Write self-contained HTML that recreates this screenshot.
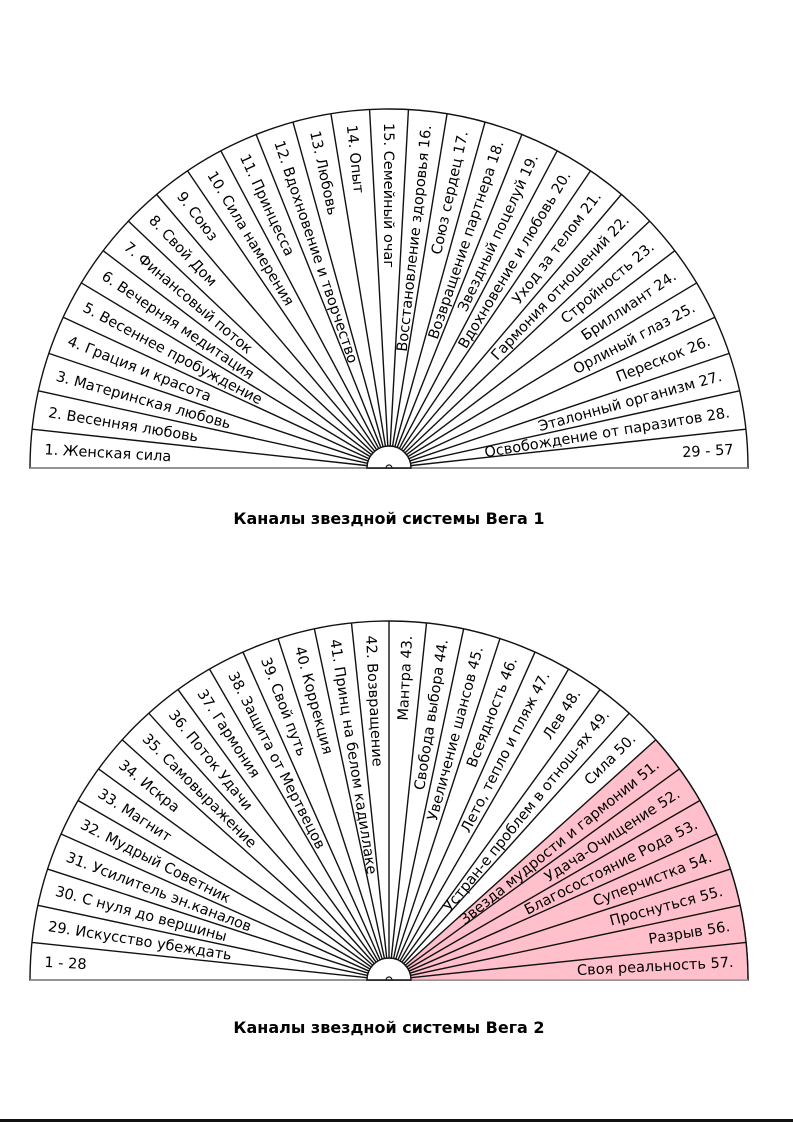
<!DOCTYPE html>
<html><head><meta charset="utf-8">
<style>
html,body{margin:0;padding:0;background:#fff;}
svg{display:block;}
text{font-family:"DejaVu Sans","Liberation Sans",sans-serif;}
</style></head>
<body>
<svg id="s" width="793" height="1122" viewBox="0 0 793 1122" xmlns="http://www.w3.org/2000/svg">
<text x="389" y="524" text-anchor="middle" font-size="16" font-weight="bold" font-family="Liberation Sans, sans-serif">Каналы звездной системы Вега 1</text>
<text x="389" y="1033" text-anchor="middle" font-size="16" font-weight="bold" font-family="Liberation Sans, sans-serif">Каналы звездной системы Вега 2</text>
<rect x="0" y="1119" width="793" height="3" fill="#111"/>
</svg>
<script>
var L1=["1. Женская сила","2. Весенняя любовь","3. Материнская любовь","4. Грация и красота","5. Весеннее пробуждение","6. Вечерняя медитация","7. Финансовый поток","8. Свой Дом","9. Союз","10. Сила намерения","11. Принцесса","12. Вдохновение и творчество","13. Любовь","14. Опыт","15. Семейный очаг","Восстановление здоровья 16.","Союз сердец 17.","Возвращение партнера 18.","Звездный поцелуй 19.","Вдохновение и любовь 20.","Уход за телом 21.","Гармония отношений 22.","Стройность 23.","Бриллиант 24.","Орлиный глаз 25.","Перескок 26.","Эталонный организм 27.","Освобождение от паразитов 28.","29 - 57"];
var L2=["1 - 28","29. Искусство убеждать","30. С нуля до вершины","31. Усилитель эн.каналов","32. Мудрый Советник","33. Магнит","34. Искра","35. Самовыражение","36. Поток Удачи","37. Гармония","38. Защита от Мертвецов","39. Свой путь","40. Коррекция","41. Принц на белом кадиллаке","42. Возвращение","Мантра 43.","Свобода выбора 44.","Увеличение шансов 45.","Всеядность 46.","Лето, тепло и пляж 47.","Лев 48.","Устран-е проблем в отнош-ях 49.","Сила 50.","Звезда мудрости и гармонии 51.","Удача-Очищение 52.","Благосостояние Рода 53.","Суперчистка 54.","Проснуться 55.","Разрыв 56.","Своя реальность 57."];
var svg=document.getElementById('s'),NS="http://www.w3.org/2000/svg";
function el(t,a,txt){var e=document.createElementNS(NS,t);for(var k in a)e.setAttribute(k,a[k]);if(txt)e.textContent=txt;svg.appendChild(e);return e;}
function chart(cx,cy,L,pinkFrom){
  var R=359,r=22,n=L.length,d=180/n,rad=Math.PI/180;
  el('path',{d:'M'+(cx-R)+' '+cy+' A'+R+' '+R+' 0 0 1 '+(cx+R)+' '+cy+' Z',fill:'#fff',stroke:'#111','stroke-width':1.4});
  if(pinkFrom!=null){
    var a0=(180-pinkFrom*d)*rad;
    var x0=cx+R*Math.cos(a0),y0=cy-R*Math.sin(a0);
    var xi=cx+r*Math.cos(a0),yi=cy-r*Math.sin(a0);
    el('path',{d:'M'+xi+' '+yi+' L'+x0+' '+y0+' A'+R+' '+R+' 0 0 1 '+(cx+R)+' '+cy+' L'+(cx+r)+' '+cy+' A'+r+' '+r+' 0 0 0 '+xi+' '+yi+' Z',fill:'#ffc0cb',stroke:'none'});
    el('path',{d:'M'+x0+' '+y0+' A'+R+' '+R+' 0 0 1 '+(cx+R)+' '+cy,fill:'none',stroke:'#111','stroke-width':1.4});
  }
  for(var i=1;i<n;i++){
    var a=(180-i*d)*rad;
    el('line',{x1:cx+r*Math.cos(a),y1:cy-r*Math.sin(a),x2:cx+R*Math.cos(a),y2:cy-R*Math.sin(a),stroke:'#111','stroke-width':1.4});
  }
  el('line',{x1:cx-R,y1:cy,x2:cx+R,y2:cy,stroke:'#999','stroke-width':1.5});
  el('path',{d:'M'+(cx-r)+' '+cy+' A'+r+' '+r+' 0 0 1 '+(cx+r)+' '+cy+' Z',fill:'#fff',stroke:'#111','stroke-width':1.4});
  el('path',{d:'M'+(cx-3)+' '+cy+' A3 3 0 0 1 '+(cx+3)+' '+cy,fill:'none',stroke:'#111','stroke-width':1.2});
  var rt=R-14;
  for(var i=0;i<n;i++){
    var th=180-(i+0.5)*d,a=th*rad;
    var x=cx+rt*Math.cos(a),y=cy-rt*Math.sin(a);
    if(th>=89.9){
      el('text',{x:x,y:y,'font-size':14.5,'text-anchor':'start',dy:5,transform:'rotate('+(180-th)+' '+x+' '+y+')'},L[i]);
    }else{
      el('text',{x:x,y:y,'font-size':14.5,'text-anchor':'end',dy:5,transform:'rotate('+(-th)+' '+x+' '+y+')'},L[i]);
    }
  }
}
chart(389,468,L1,null);
chart(389,980,L2,23);
</script>
</body></html>
